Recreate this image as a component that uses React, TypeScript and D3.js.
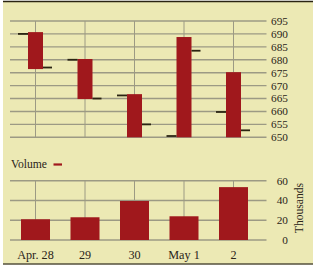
import React from "react";
import * as d3 from "d3";

const categories = ["Apr. 28", "29", "30", "May 1", "2"];
const highs = [690.7, 680.3, 666.7, 688.8, 675.2];
const lows = [676.4, 664.8, 650, 650, 650];
const opens = [690, 680, 666.2, 650.5, 659.8];
const closes = [677, 665, 655, 683.5, 652.7];
const volumes = [21, 23, 39.5, 24, 53.5];
const priceTicks = [650, 655, 660, 665, 670, 675, 680, 685, 690, 695];
const volumeTicks = [0, 20, 40, 60];

const W = 313;
const H = 269;
const BG = "#ECE9B4";
const RED = "#A0181C";
const GRID = "#9C9A84";
const DARK = "#2A2412";
const FONT = "'Liberation Serif', 'DejaVu Serif', serif";

export default function App() {
  const x = d3
    .scalePoint<string>()
    .domain(categories)
    .range([35.5, 233.5]);
  const yP = d3.scaleLinear().domain([650, 695]).range([137.3, 21]);
  const yV = d3.scaleLinear().domain([0, 60]).range([240, 180.7]);
  const gridX0 = 10;
  const gridX1 = 266.5;
  const labelX = 288;

  return (
    <svg
      width={W}
      height={H}
      style={{ position: "absolute", left: 0, top: 0, display: "block" }}
      fontFamily={FONT}
    >
      <rect x={3} y={2} width={W - 3} height={262} fill={BG} />
      <line x1={3} x2={W} y1={1.5} y2={1.5} stroke={DARK} strokeWidth={1.6} />
      <line x1={3} x2={W} y1={264} y2={264} stroke="#55503c" strokeWidth={1.4} />

      {/* price grid */}
      {priceTicks.map((t) => (
        <g key={"p" + t}>
          <line x1={gridX0} x2={gridX1} y1={yP(t)} y2={yP(t)} stroke={GRID} strokeWidth={1.4} />
          <text x={labelX} y={yP(t)} dy="0.35em" textAnchor="end" fontSize={11.3} fill="#2a2418">
            {t}
          </text>
        </g>
      ))}
      {categories.map((c) => (
        <line key={"vp" + c} x1={x(c)!} x2={x(c)!} y1={yP(695)} y2={yP(650)} stroke={GRID} strokeWidth={1} />
      ))}

      {/* price bars */}
      {categories.map((c, i) => {
        const cx = x(c)!;
        const bw = 15;
        return (
          <g key={"b" + c}>
            <rect x={cx - bw / 2} y={yP(highs[i])} width={bw} height={yP(lows[i]) - yP(highs[i])} fill={RED} />
            <line x1={cx - bw / 2 - 10} x2={cx - bw / 2} y1={yP(opens[i])} y2={yP(opens[i])} stroke={DARK} strokeWidth={1.8} />
            <line x1={cx + bw / 2} x2={cx + bw / 2 + 9} y1={yP(closes[i])} y2={yP(closes[i])} stroke={DARK} strokeWidth={1.8} />
          </g>
        );
      })}

      {/* volume legend */}
      <text x={11} y={167.5} fontSize={11.6} fill="#2a2418">Volume</text>
      <line x1={53.5} x2={62} y1={164.5} y2={164.5} stroke={RED} strokeWidth={2.2} />

      {/* volume grid */}
      {volumeTicks.map((t) => (
        <g key={"v" + t}>
          <line x1={gridX0} x2={gridX1} y1={yV(t)} y2={yV(t)} stroke={GRID} strokeWidth={1.4} />
          <text x={labelX} y={yV(t)} dy="0.35em" textAnchor="end" fontSize={11.3} fill="#2a2418">
            {t}
          </text>
        </g>
      ))}
      {categories.map((c) => (
        <line key={"vv" + c} x1={x(c)!} x2={x(c)!} y1={yV(60)} y2={yV(0)} stroke={GRID} strokeWidth={1} />
      ))}
      {categories.map((c, i) => {
        const cx = x(c)!;
        const bw = 29;
        return (
          <rect key={"vb" + c} x={cx - bw / 2} y={yV(volumes[i])} width={bw} height={yV(0) - yV(volumes[i])} fill={RED} />
        );
      })}
      {categories.map((c) => (
        <text key={"xl" + c} x={x(c)!} y={258.5} textAnchor="middle" fontSize={12.2} fill="#2a2418">
          {c}
        </text>
      ))}
      <text
        transform={`translate(302.5, 208) rotate(-90)`}
        textAnchor="middle"
        fontSize={11.6}
        fill="#2a2418"
      >
        Thousands
      </text>
    </svg>
  );
}
